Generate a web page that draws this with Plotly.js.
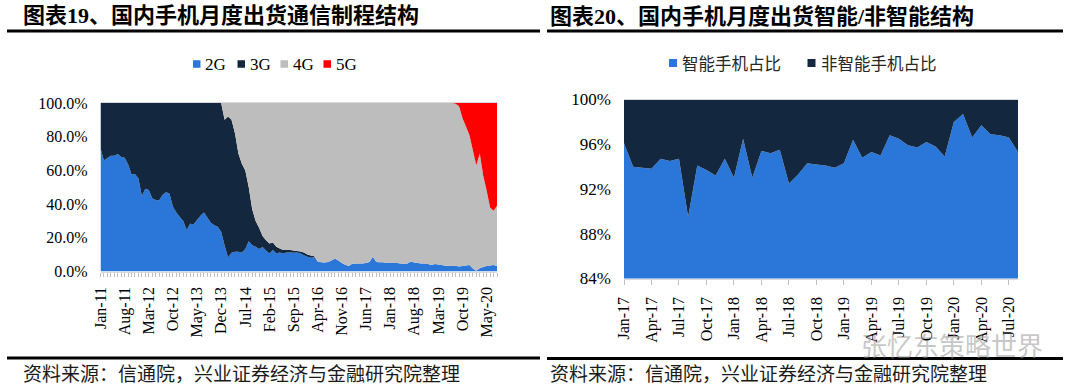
<!DOCTYPE html>
<html>
<head>
<meta charset="utf-8">
<script src="https://cdn.plot.ly/plotly-3.0.1.min.js"></script>
<style>
html,body{margin:0;padding:0;background:#ffffff;}
#chart{width:1080px;height:391px;}
</style>
</head>
<body>
<div id="chart"></div>
<script>
// ---------- data ----------
const MONTH_NAMES = ['Jan','Feb','Mar','Apr','May','Jun','Jul','Aug','Sep','Oct','Nov','Dec'];
function monthLabels(startYear, count) {
  const out = [];
  for (let k = 0; k < count; k++) {
    const y = startYear + Math.floor(k / 12);
    out.push(MONTH_NAMES[k % 12] + '-' + String(y % 100).padStart(2, '0'));
  }
  return out;
}

// Chart 19: Jan-11 .. Aug-20 (share of shipments, %)
const shipMonths = monthLabels(2011, 116);
const shipTickLabels = ['Jan-11','Aug-11','Mar-12','Oct-12','May-13','Dec-13','Jul-14','Feb-15','Sep-15',
  'Apr-16','Nov-16','Jun-17','Jan-18','Aug-18','Mar-19','Oct-19','May-20'];
const shipYTicks = [0, 20, 40, 60, 80, 100];
const shipYTickLabels = ['0.0%','20.0%','40.0%','60.0%','80.0%','100.0%'];

const share2G = [73.1,65.9,67.3,68.7,68.7,69.7,67.9,67.5,63.6,57.6,
  57.8,55.2,44.8,49.1,48.3,43.4,42.4,42.2,45.5,47.1,
  46.3,38.4,35.0,32.3,29.9,24.6,28.3,28.1,30.5,33.1,
  35.0,32.1,28.9,27.5,26.5,23.6,15.4,8.3,11.1,11.7,
  11.7,11.3,13.3,18.0,15.6,14.7,13.3,14.5,12.5,10.7,
  12.7,10.7,11.3,10.7,11.3,11.3,11.1,11.3,10.7,9.7,
  8.7,8.1,8.5,5.9,5.5,5.3,5.7,6.5,7.7,6.5,
  5.0,4.0,3.2,4.6,4.8,4.8,4.8,5.1,5.7,8.7,
  5.7,5.5,5.5,5.0,5.3,5.1,5.1,4.8,4.6,4.8,
  5.9,5.3,5.1,4.8,4.8,4.4,3.8,4.4,4.2,3.8,
  3.4,3.4,3.2,3.4,3.0,3.2,3.6,3.8,1.8,0.4,
  2.0,2.6,3.2,3.5,3.8,3.2];

const share3G = [26.9,34.1,32.7,31.3,31.3,30.3,32.1,32.5,36.4,42.4,
  42.2,44.8,55.2,50.9,51.7,56.6,57.6,57.8,54.5,52.9,
  53.7,61.6,65.0,67.7,70.1,75.4,71.7,71.9,69.5,66.9,
  65.0,67.9,71.1,72.5,73.5,76.4,74.6,83.7,78.9,70.3,
  58.3,52.7,46.7,32.0,21.4,15.3,12.7,6.5,6.0,5.9,
  4.5,4.0,2.4,2.0,1.4,1.4,1.4,0.8,1.2,1.6,
  1.4,1.4,0.5,0,0,0,0,0,0,0,
  0,0,0,0,0,0,0,0,0,0,
  0,0,0,0,0,0,0,0,0,0,
  0,0,0,0,0,0,0,0,0,0,
  0,0,0,0,0,0,0,0,0,0,
  0,0,0,0,0,0];

const share4G = [0,0,0,0,0,0,0,0,0,0,
  0,0,0,0,0,0,0,0,0,0,
  0,0,0,0,0,0,0,0,0,0,
  0,0,0,0,0,0,10,8,10,18,
  30,36,40,50,63,70,74,79,81.5,83.4,
  82.8,85.3,86.3,87.3,87.3,87.3,87.5,87.9,88.1,88.7,
  89.9,90.5,91.0,94.1,94.5,94.7,94.3,93.5,92.3,93.5,
  95.0,96.0,96.8,95.4,95.2,95.2,95.2,94.9,94.3,91.3,
  94.3,94.5,94.5,95.0,94.7,94.9,94.9,95.2,95.4,95.2,
  94.1,94.7,94.9,95.2,95.2,95.6,96.2,95.6,95.8,96.2,
  96.6,96.6,96.8,96.1,95.0,87.8,82.4,77.2,70.2,62.6,
  68.0,54.4,44.8,34.5,32.2,35.8];

const share5G = [0,0,0,0,0,0,0,0,0,0,
  0,0,0,0,0,0,0,0,0,0,
  0,0,0,0,0,0,0,0,0,0,
  0,0,0,0,0,0,0,0,0,0,
  0,0,0,0,0,0,0,0,0,0,
  0,0,0,0,0,0,0,0,0,0,
  0,0,0,0,0,0,0,0,0,0,
  0,0,0,0,0,0,0,0,0,0,
  0,0,0,0,0,0,0,0,0,0,
  0,0,0,0,0,0,0,0,0,0,
  0,0,0,0.5,2,9,14,19,28,37,
  30,43,52,62,64,61];

// Chart 20: Jan-17 .. Aug-20 (share, %)
const smartMonths = monthLabels(2017, 44);
const smartTickLabels = ['Jan-17','Apr-17','Jul-17','Oct-17','Jan-18','Apr-18','Jul-18','Oct-18',
  'Jan-19','Apr-19','Jul-19','Oct-19','Jan-20','Apr-20','Jul-20'];
const smartYTicks = [84, 88, 92, 96, 100];
const smartYTickLabels = ['84%','88%','92%','96%','100%'];
const smartShare = [96.1,94.0,93.9,93.8,94.7,94.5,94.7,89.5,94.1,93.7,
  93.2,94.7,93.0,96.5,93.0,95.4,95.2,95.5,92.5,93.3,
  94.3,94.2,94.1,93.9,94.3,96.4,94.8,95.3,95.0,96.8,
  96.5,95.9,95.7,96.2,95.8,94.9,98.0,98.7,96.6,97.7,
  96.9,96.8,96.6,95.3];
const nonSmartShare = [3.9,6.0,6.1,6.2,5.3,5.5,5.3,10.5,5.9,6.3,
  6.8,5.3,7.0,3.5,7.0,4.6,4.8,4.5,7.5,6.7,
  5.7,5.8,5.9,6.1,5.7,3.6,5.2,4.7,5.0,3.2,
  3.5,4.1,4.3,3.8,4.2,5.1,2.0,1.3,3.4,2.3,
  3.1,3.2,3.4,4.7];

const seriesNames19 = ['2G','3G','4G','5G'];
const seriesNames20 = ['智能手机占比','非智能手机占比'];

// ---------- style ----------
const W = 1080, H = 391;
const px = v => v / W;
const py = v => 1 - v / H;
const BLUE = '#2A76D9', NAVY = '#13283F', GREY = '#BDBDBD', RED = '#FF0000';
const SERIF = 'Liberation Serif, Times New Roman, serif';
const CJK = 'Noto Sans CJK SC, Noto Sans, sans-serif';
const TITLE_FONT = 'Liberation Serif, Noto Sans CJK SC, serif';

const colors19 = [BLUE, NAVY, GREY, RED];
const shares19 = [share2G, share3G, share4G, share5G];
const traces = shares19.map((vals, k) => {
  const t = {
    type: 'scatter', x: shipMonths, y: vals, name: seriesNames19[k],
    mode: 'none', stackgroup: 'g19',
    fillcolor: colors19[k], showlegend: false, hoverinfo: 'skip',
    xaxis: 'x', yaxis: 'y'
  };
  if (k === 0) t.groupnorm = 'percent';
  return t;
});
[smartShare, nonSmartShare].forEach((vals, k) => traces.push({
  type: 'scatter', x: smartMonths, y: vals, name: seriesNames20[k],
  mode: 'none', stackgroup: 'g20', fillcolor: [BLUE, NAVY][k],
  showlegend: false, hoverinfo: 'skip', xaxis: 'x2', yaxis: 'y2'
}));

const annotations = [];
const shapes = [];
function txt(text, x, y, size, family, color, xanchor) {
  annotations.push({text, x: px(x), y: py(y), xref: 'paper', yref: 'paper',
    xanchor: xanchor || 'left', yanchor: 'middle', showarrow: false,
    font: {size, family, color: color || '#000'}});
}
function rule(x0, x1, y, w) {
  shapes.push({type: 'line', xref: 'paper', yref: 'paper', x0: px(x0), x1: px(x1),
    y0: py(y), y1: py(y), line: {color: '#000', width: w}});
}
function square(x, y, s, color) {
  shapes.push({type: 'rect', xref: 'paper', yref: 'paper', x0: px(x), x1: px(x + s),
    y0: py(y + s / 2), y1: py(y - s / 2), line: {width: 0}, fillcolor: color});
}

// titles
txt('<b>图表19、国内手机月度出货通信制程结构</b>', 21, 15.5, 22, TITLE_FONT);
txt('<b>图表20、国内手机月度出货智能/非智能结构</b>', 548, 17, 22, TITLE_FONT);
rule(7, 540, 31, 3);
rule(547, 1063, 31, 3);
rule(7, 540, 358, 3);
rule(547, 1063, 358.5, 3);
txt('资料来源：信通院，兴业证券经济与金融研究院整理', 21, 372, 19, CJK, '#1a1a1a');
txt('资料来源：信通院，兴业证券经济与金融研究院整理', 548, 372, 19, CJK, '#1a1a1a');

// legends
const leg19x = [193, 237.5, 280.5, 323.5];
seriesNames19.forEach((n, k) => {
  square(leg19x[k], 64, 7.5, colors19[k]);
  txt(n, leg19x[k] + 10, 64.5, 17, SERIF, '#000');
});
const leg20x = [669, 807.5];
seriesNames20.forEach((n, k) => {
  square(leg20x[k], 63, 8, [BLUE, NAVY][k]);
  txt(n, leg20x[k] + 11, 63, 16.5, CJK, '#262626');
});

// watermark
txt('张忆东策略世界', 952, 344, 26, CJK, 'rgba(150,150,150,0.55)', 'center');

const layout = {
  width: W, height: H, autosize: false,
  margin: {l: 0, r: 0, t: 0, b: 0, pad: 0},
  paper_bgcolor: '#fff', plot_bgcolor: '#fff',
  showlegend: false,
  xaxis: {
    domain: [px(100.5), px(497)], anchor: 'y', type: 'category', range: [0, 115],
    showgrid: false, zeroline: false,
    tickmode: 'array', tickvals: shipMonths,
    ticktext: shipMonths.map(m => shipTickLabels.includes(m) ? m : ''),
    ticks: 'outside', ticklen: 4, tickcolor: '#BFBFBF', tickwidth: 1,
    showline: true, linecolor: '#D9D9D9', linewidth: 1, mirror: true,
    tickangle: -90, ticklabelstandoff: 4,
    tickfont: {family: SERIF, size: 16, color: '#000'}
  },
  yaxis: {
    domain: [py(271.5), py(103)], anchor: 'x', range: [0, 100],
    showgrid: false, zeroline: false,
    tickmode: 'array', tickvals: shipYTicks, ticktext: shipYTickLabels,
    ticks: '', showline: false, ticklabelstandoff: 12,
    tickfont: {family: SERIF, size: 16, color: '#000'}
  },
  xaxis2: {
    domain: [px(624), px(1018)], anchor: 'y2', type: 'category', range: [0, 43],
    showgrid: false, zeroline: false,
    tickmode: 'array', tickvals: smartTickLabels, ticktext: smartTickLabels,
    ticks: 'outside', ticklen: 5, tickcolor: '#BFBFBF', tickwidth: 1,
    showline: true, linecolor: '#D9D9D9', linewidth: 1, mirror: true,
    tickangle: -90, ticklabelstandoff: 6,
    tickfont: {family: SERIF, size: 16, color: '#000'}
  },
  yaxis2: {
    domain: [py(278.5), py(99.5)], anchor: 'x2', range: [84, 100],
    showgrid: false, zeroline: false,
    tickmode: 'array', tickvals: smartYTicks, ticktext: smartYTickLabels,
    ticks: '', showline: false, ticklabelstandoff: 12,
    tickfont: {family: SERIF, size: 17, color: '#000'}
  },
  annotations, shapes
};

Plotly.newPlot('chart', traces, layout, {displayModeBar: false, staticPlot: true});
</script>
</body>
</html>
